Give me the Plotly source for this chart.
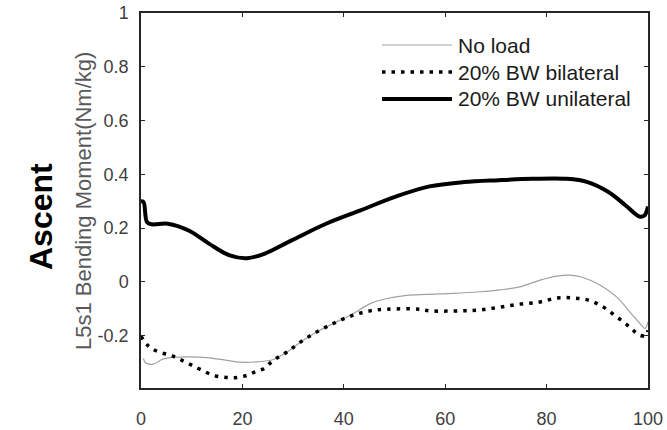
import plotly.graph_objects as go

# ---- data ----
noload_x = [0.5, 0.8, 1.8, 2.8, 4.1, 5.8, 9.7, 13.0, 16.9, 19.6, 22.9, 26.1, 28.8, 32.0, 35.3, 38.6,
            41.9, 45.2, 48.5, 51.7, 56.3, 61.6, 66.8, 70.8, 74.7, 78.7, 82.0, 84.6, 87.2, 90.5,
            93.8, 96.7, 98.7, 99.4, 100]
noload_y = [-0.285, -0.300, -0.307, -0.304, -0.289, -0.282, -0.279, -0.282, -0.292, -0.299, -0.298,
            -0.289, -0.261, -0.217, -0.180, -0.149, -0.118, -0.081, -0.062, -0.052, -0.047, -0.043,
            -0.037, -0.030, -0.019, 0.006, 0.021, 0.025, 0.016, -0.012, -0.056, -0.118, -0.161,
            -0.174, -0.149]

bilat_x = [0, 1.5, 3.5, 5.8, 7.7, 9.7, 11.7, 14.3, 16.9, 18.9, 20.9, 22.5, 24.2, 26.1, 28.8, 32.0,
           35.3, 38.6, 41.9, 45.2, 48.5, 55.0, 57.0, 62.9, 66.8, 70.8, 74.7, 78.7, 82.0, 85.2,
           88.2, 91.1, 93.8, 96.4, 98.4, 99.7, 100]
bilat_y = [-0.202, -0.240, -0.261, -0.273, -0.289, -0.307, -0.326, -0.348, -0.356, -0.356, -0.348,
           -0.335, -0.323, -0.292, -0.261, -0.217, -0.180, -0.149, -0.124, -0.108, -0.102, -0.102,
           -0.108, -0.108, -0.105, -0.094, -0.083, -0.075, -0.060, -0.060, -0.068, -0.093, -0.130,
           -0.168, -0.199, -0.199, -0.180]

unilat_x = [0, 0.5, 1.2, 2.2, 5.3, 9.4, 13.4, 17.5, 20.9, 24.3, 29.7, 36.5, 43.3, 50.1, 56.9, 63.7,
            70.5, 77.3, 84.0, 88.1, 92.2, 95.6, 98.3, 99.3, 100]
unilat_y = [0.300, 0.297, 0.222, 0.214, 0.216, 0.191, 0.142, 0.098, 0.088, 0.104, 0.154, 0.216,
            0.266, 0.316, 0.355, 0.371, 0.378, 0.383, 0.383, 0.371, 0.334, 0.284, 0.243, 0.247,
            0.280]

series_names = ["No load", "20% BW bilateral", "20% BW unilateral"]
x_ticks = [0, 20, 40, 60, 80, 100]
y_ticks = [-0.2, 0, 0.2, 0.4, 0.6, 0.8, 1]
y_ticklabels = ["-0.2", "0", "0.2", "0.4", "0.6", "0.8", "1"]
y_title = "L5s1 Bending Moment(Nm/kg)"
side_title = "Ascent"

# ---- layout geometry (pixels) ----
W, H = 667, 430
L, R, T, B = 141, 648, 13, 388
FONT = "Liberation Sans, Arial, sans-serif"


def px_x(p):
    return (p - L) / (R - L)


def px_y(p):
    return (B - p) / (B - T)


styles = [
    dict(color="#a0a0a0", width=1.2),
    dict(color="#000000", width=3.5, dash="3.5px,6px"),
    dict(color="#000000", width=4),
]
xs = [noload_x, bilat_x, unilat_x]
ys = [noload_y, bilat_y, unilat_y]

fig = go.Figure()
for name, x, y, st in zip(series_names, xs, ys, styles):
    fig.add_trace(go.Scatter(x=x, y=y, mode="lines", name=name, line=st,
                             line_shape="spline", showlegend=False))

axis_common = dict(showline=True, linecolor="#262626", linewidth=1.5, mirror="ticks",
                   ticks="inside", ticklen=4, tickcolor="#262626", tickwidth=1,
                   showgrid=False, zeroline=False,
                   tickfont=dict(family=FONT, size=18, color="#404040"))

fig.update_layout(
    width=W, height=H,
    margin=dict(l=L, r=W - R, t=T, b=H - B, autoexpand=False),
    paper_bgcolor="white", plot_bgcolor="white",
    xaxis=dict(range=[0, 100], tickvals=x_ticks, ticklabelstandoff=14, **axis_common),
    yaxis=dict(range=[-0.395, 1], tickvals=y_ticks, ticktext=y_ticklabels,
               ticklabelstandoff=7, **axis_common),
)

annotations = [
    dict(text=y_title, textangle=-90, x=px_x(83), y=px_y(201), xref="paper", yref="paper",
         showarrow=False, xanchor="center", yanchor="middle",
         font=dict(family=FONT, size=22, color="#595959")),
    dict(text="<b>" + side_title + "</b>", textangle=-90, x=px_x(41), y=px_y(217),
         xref="paper", yref="paper", showarrow=False, xanchor="center", yanchor="middle",
         font=dict(family=FONT, size=32, color="#000000")),
]

# legend drawn manually (box off, long line samples)
leg_rows = [45, 72, 99]
shapes = []
for name, st, ry in zip(series_names, styles, leg_rows):
    shapes.append(dict(type="line", xref="paper", yref="paper",
                       x0=px_x(382), x1=px_x(452), y0=px_y(ry), y1=px_y(ry),
                       line=st))
    annotations.append(dict(text=name, x=px_x(456), y=px_y(ry), xref="paper", yref="paper",
                            showarrow=False, xanchor="left", yanchor="middle",
                            font=dict(family=FONT, size=21, color="#1a1a1a")))

fig.update_layout(annotations=annotations, shapes=shapes)
fig.write_html("out.html")
